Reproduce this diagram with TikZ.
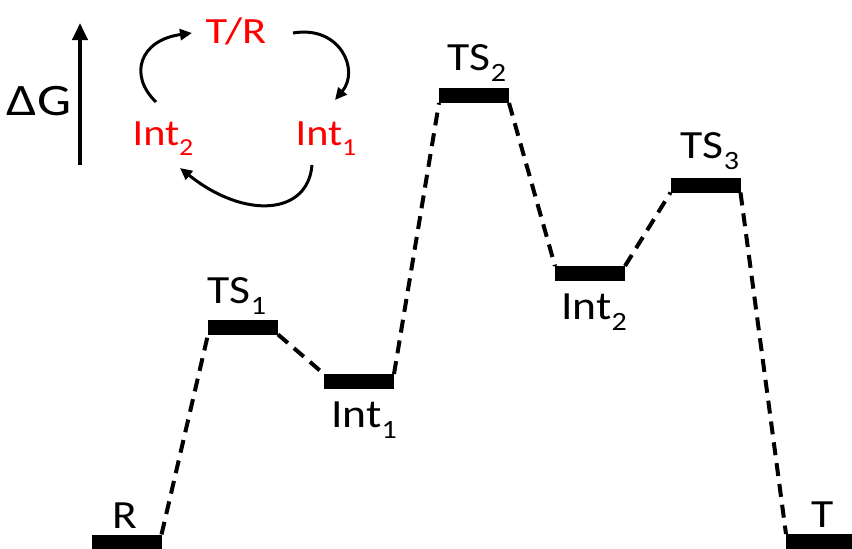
\documentclass[tikz,border=0pt]{standalone}
\usepackage{fontspec}
\setmainfont{Carlito}
\usepackage{graphicx}
\usetikzlibrary{arrows.meta}
\newcommand\lowsub[1]{\raisebox{-0.28em}{\scalebox{0.66}{#1}}}
\newcommand\wx[1]{\scalebox{1.14}[1]{#1}}
\tikzset{
  bar/.style={rectangle,fill=black,draw=none,minimum width=70pt,minimum height=15pt,inner sep=0pt,outer sep=0pt},
  lbl/.style={anchor=base,inner sep=0pt,font=\fontsize{40}{48}\selectfont},
  rlbl/.style={anchor=base,inner sep=0pt,text=red,font=\fontsize{37}{44}\selectfont},
  conn/.style={line width=4pt,dash pattern=on 13pt off 8pt},
  cyc/.style={line width=3pt,-{Triangle[length=12pt,width=11pt]}},
}
\begin{document}
\begin{tikzpicture}[x=1pt,y=-1pt]
\useasboundingbox (0,0) rectangle (852,549);
% energy levels
\node[bar] (R) at (126.5,542) {};
\node[bar] (TS1) at (243,327) {};
\node[bar] (I1) at (359,381.5) {};
\node[bar] (TS2) at (474,95.5) {};
\node[bar] (I2) at (590,273.5) {};
\node[bar] (TS3) at (705.5,185) {};
\node[bar] (T) at (821,541.5) {};
% connectors
\draw[conn] (R.north east) -- (TS1.south west);
\draw[conn] (TS1.south east) -- (I1.north west);
\draw[conn] (I1.north east) -- (TS2.south west);
\draw[conn] (TS2.south east) -- (I2.north west);
\draw[conn] (I2.north east) -- (TS3.south west);
\draw[conn] (TS3.south east) -- (T.north west);
% level labels
\node[lbl] (lR) at (125,528) {\wx{R}};
\node[lbl] (lTS1) at (237,303) {\wx{TS\lowsub{1}}};
\node[lbl] (lI1) at (364,427) {\wx{Int\lowsub{1}}};
\node[lbl] (lTS2) at (477,70) {\wx{TS\lowsub{2}}};
\node[lbl] (lI2) at (594,319) {\wx{Int\lowsub{2}}};
\node[lbl] (lTS3) at (710,158) {\wx{TS\lowsub{3}}};
\node[lbl] (lT) at (823,527) {\wx{T}};
% axis
\coordinate (ax0) at (80,165);
\coordinate (ax1) at (80,23);
\draw[line width=4pt,-{Triangle[length=17pt,width=15pt]}] (ax0) -- (ax1);
\node[anchor=base,inner sep=0pt,font=\fontsize{45}{52}\selectfont] (dG) at (39,115) {\scalebox{1.2}[1]{ΔG}};
% cycle
\node[rlbl] (cTR) at (236,43) {\scalebox{1.2}[1]{T/R}};
\node[rlbl] (cI2) at (163,145) {\wx{Int\lowsub{2}}};
\node[rlbl] (cI1) at (326,145) {\wx{Int\lowsub{1}}};
\coordinate (a1) at (156,102);
\coordinate (a2) at (192,33);
\coordinate (b1) at (293,33);
\coordinate (b2) at (335,100);
\coordinate (c1) at (312,165);
\coordinate (c2) at (180,168);
\draw[cyc] (a1) .. controls (128,75) and (140,40) .. (a2);
\draw[cyc] (b1) .. controls (340,25) and (360,70) .. (b2);
\draw[cyc] (c1) .. controls (308,215) and (245,220) .. (c2);
\end{tikzpicture}
\end{document}
